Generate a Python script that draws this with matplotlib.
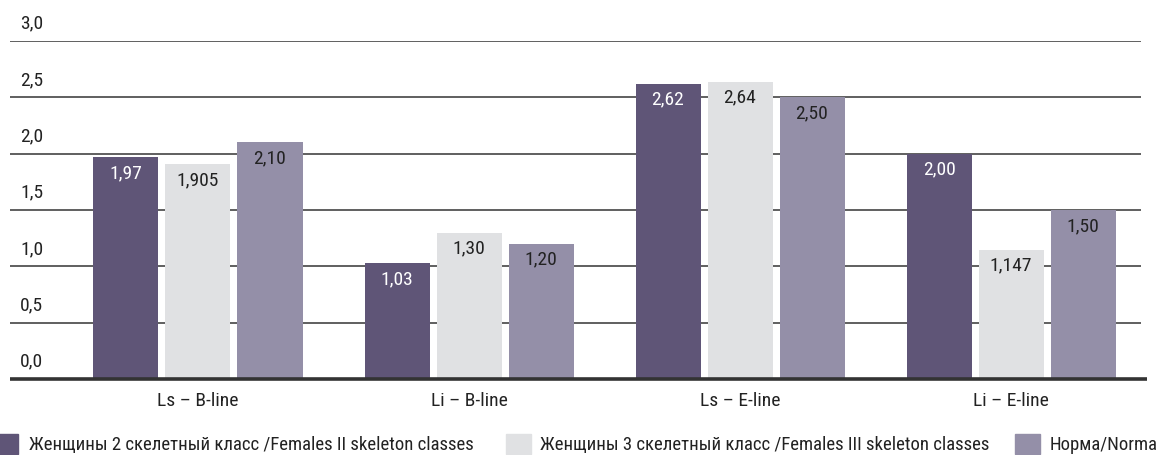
import matplotlib
matplotlib.use("Agg")
import matplotlib.pyplot as plt
from matplotlib import font_manager
from matplotlib.patches import Rectangle

# Data
categories = ["Ls – B-line", "Li – B-line", "Ls – E-line", "Li – E-line"]
females_2 = [1.97, 1.03, 2.62, 2.00]
females_3 = [1.905, 1.30, 2.64, 1.147]
norma = [2.10, 1.20, 2.50, 1.50]
labels_2 = ["1,97", "1,03", "2,62", "2,00"]
labels_3 = ["1,905", "1,30", "2,64", "1,147"]
labels_n = ["2,10", "1,20", "2,50", "1,50"]
series_names = [
    "Женщины 2 скелетный класс /Females II skeleton classes",
    "Женщины 3 скелетный класс /Females III skeleton classes",
    "Норма/Norma",
]
yticks = [0.0, 0.5, 1.0, 1.5, 2.0, 2.5, 3.0]

available = {f.name for f in font_manager.fontManager.ttflist}
family = [f for f in ["Liberation Sans Narrow", "Roboto Condensed", "DejaVu Sans Condensed"]
          if f in available] + ["DejaVu Sans"]
plt.rcParams["font.family"] = family

FS = 14
colors = ["#5f5577", "#e0e1e3", "#948fa8"]
text_colors = ["white", "#222222", "#222222"]

W, H = 1158, 455
fig = plt.figure(figsize=(W / 100, H / 100), dpi=100)
ax_left, ax_right = 10, 1141
ax_bottom, ax_top = 379, 41
ax = fig.add_axes([ax_left / W, (H - ax_bottom) / H,
                   (ax_right - ax_left) / W, (ax_bottom - ax_top) / H])

spacing = 271.0
c0 = 198.0
ax.set_xlim((ax_left - c0) / spacing, (ax_right - c0) / spacing)
ax.set_ylim(0, 3.0)
ax.axis("off")

# grid lines
for v in yticks[1:]:
    ax.axhline(v, color="#444444", lw=1.2, zorder=1)
ax.plot([0, 1.005], [0, 0], transform=ax.transAxes, color="#333333",
        lw=2.6, zorder=4, clip_on=False, solid_capstyle="butt")

# tick labels above each grid line
for v in yticks:
    ax.text(10 / (ax_right - ax_left), v + 0.155, f"{v:.1f}".replace(".", ","),
            transform=ax.get_yaxis_transform(), ha="left", va="center",
            fontsize=FS, color="#222222")

bw = 65 / spacing
off = 72 / spacing
all_vals = [females_2, females_3, norma]
all_labels = [labels_2, labels_3, labels_n]
for s, (vals, labs) in enumerate(zip(all_vals, all_labels)):
    xs = [i + (s - 1) * off for i in range(len(categories))]
    ax.bar(xs, vals, width=bw, color=colors[s], zorder=3)
    for x, v, lab in zip(xs, vals, labs):
        ax.annotate(lab, (x, v), xytext=(0, -16), textcoords="offset pixels",
                    ha="center", va="center", fontsize=FS,
                    color=text_colors[s], zorder=5)

for i, c in enumerate(categories):
    ax.text(i, -22 / 112.7, c, ha="center", va="center", fontsize=FS,
            color="#222222", clip_on=False)

# legend row
leg_box_x = [-7, 506, 1015]
leg_text_x = [29, 540, 1050]
for bx, tx, col, name in zip(leg_box_x, leg_text_x, colors, series_names):
    fig.patches.append(Rectangle((bx / W, (H - 454) / H), 25 / W, 20 / H,
                                 transform=fig.transFigure, color=col))
    fig.text(tx / W, (H - 445) / H, name, ha="left", va="center",
             fontsize=13.5, color="#222222")

fig.savefig("out.png", dpi=100)
